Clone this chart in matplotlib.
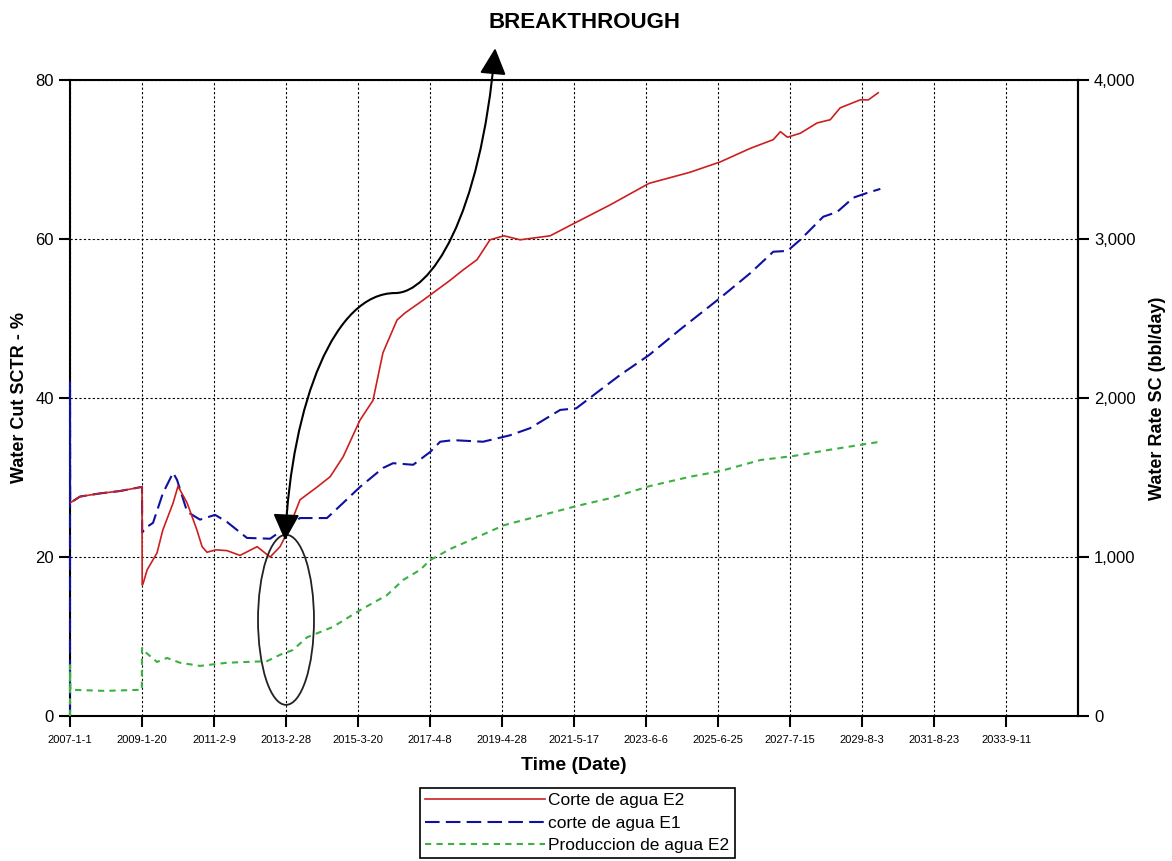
import numpy as np
import matplotlib
matplotlib.use("Agg")
import matplotlib.pyplot as plt
import matplotlib.dates as mdates
from matplotlib.patches import Ellipse, FancyArrowPatch
from matplotlib.path import Path
from matplotlib.ticker import FuncFormatter

plt.rcParams['font.family'] = ['Liberation Sans', 'DejaVu Sans']

# Corte de agua E2 (Water Cut %, left axis)
e2_dates = ["2007-01-01", "2007-04-15", "2007-11-10", "2008-06-05", "2009-01-12", "2009-01-20",
            "2009-01-22", "2009-01-30", "2009-03-15", "2009-06-25", "2009-08-25", "2009-12-10",
            "2010-01-30", "2010-05-05", "2010-08-15", "2010-10-08", "2010-11-28", "2011-03-01",
            "2011-06-25", "2011-11-07", "2012-05-03", "2012-09-16", "2012-12-28", "2013-03-10",
            "2013-07-24", "2014-01-18", "2014-06-03", "2014-10-16", "2015-04-09", "2015-08-23",
            "2015-12-05", "2016-04-29", "2016-07-22", "2017-01-26", "2017-11-03", "2018-03-18",
            "2018-08-11", "2018-12-24", "2019-05-19", "2019-11-03", "2020-09-10", "2021-06-09",
            "2022-05-30", "2023-07-08", "2024-09-08", "2025-07-19", "2026-05-27", "2027-01-22",
            "2027-04-06", "2027-06-18", "2027-10-30", "2028-04-23", "2028-09-06", "2028-12-19",
            "2029-07-15", "2029-10-08", "2030-01-19"]
e2_cut = [26.8, 27.6, 28.0, 28.3, 28.8, 28.8,
          16.5, 16.6, 18.4, 20.5, 23.4, 26.8,
          28.9, 26.8, 23.4, 21.3, 20.6, 20.9,
          20.8, 20.2, 21.3, 20.0, 21.3, 23.0,
          27.2, 28.8, 30.1, 32.6, 37.2, 39.7,
          45.7, 49.8, 50.7, 52.3, 54.8, 56.1,
          57.4, 59.9, 60.4, 59.9, 60.4, 62.1,
          64.3, 67.0, 68.4, 69.7, 71.4, 72.5,
          73.5, 72.8, 73.3, 74.6, 75.0, 76.5,
          77.5, 77.5, 78.4]

# corte de agua E1 (Water Cut %, left axis)
e1_dates = ["2007-01-01", "2007-01-01", "2007-01-03", "2007-04-15", "2007-11-10", "2008-06-05",
            "2009-01-12", "2009-01-20", "2009-01-22", "2009-03-15", "2009-05-15", "2009-08-25",
            "2009-12-10", "2010-01-20", "2010-05-05", "2010-09-16", "2011-02-20", "2011-06-25",
            "2012-01-18", "2012-09-16", "2013-03-10", "2013-07-24", "2014-05-01", "2014-10-16",
            "2015-04-09", "2015-12-05", "2016-03-20", "2016-10-15", "2017-04-08", "2017-07-23",
            "2017-12-05", "2018-10-12", "2019-07-18", "2020-02-14", "2020-12-24", "2021-06-09",
            "2022-02-14", "2022-09-10", "2023-07-08", "2024-05-25", "2025-07-19", "2026-05-27",
            "2027-01-22", "2027-06-18", "2027-10-30", "2028-06-25", "2028-11-17", "2029-05-05",
            "2029-09-27", "2030-02-10"]
e1_cut = [0.0, 42.0, 26.8, 27.6, 28.0, 28.3,
          28.8, 28.8, 23.1, 23.8, 24.3, 28.0,
          30.6, 29.7, 25.7, 24.7, 25.3, 24.4,
          22.4, 22.3, 23.8, 24.9, 24.9, 26.8,
          28.8, 31.2, 31.8, 31.6, 33.2, 34.5,
          34.7, 34.5, 35.3, 36.2, 38.5, 38.7,
          41.0, 42.9, 45.4, 48.6, 52.6, 55.7,
          58.4, 58.5, 59.9, 62.8, 63.4, 65.2,
          65.8, 66.3]

# Produccion de agua E2 (Water Rate bbl/day, right axis)
prod_dates = ["2007-01-01", "2007-01-01", "2007-01-05", "2008-01-01", "2009-01-18", "2009-01-20",
              "2009-01-30", "2009-06-25", "2009-10-08", "2010-02-20", "2010-09-16", "2011-06-25",
              "2012-08-15", "2012-12-28", "2013-05-10", "2013-10-05", "2014-07-01", "2015-04-09",
              "2016-01-15", "2016-07-01", "2016-12-28", "2017-04-08", "2017-11-03", "2018-05-30",
              "2019-05-19", "2020-05-30", "2021-06-09", "2022-05-30", "2023-07-08", "2024-09-08",
              "2025-07-19", "2026-09-10", "2027-08-18", "2028-09-06", "2029-09-05", "2030-02-10"]
prod_rate = [0, 320, 165, 158, 165, 428,
             415, 340, 365, 335, 315, 335,
             345, 385, 415, 495, 560, 665,
             760, 855, 920, 980, 1050, 1105,
             1200, 1260, 1320, 1370, 1445, 1505,
             1540, 1610, 1635, 1675, 1710, 1725]

tick_labels = ["2007-1-1", "2009-1-20", "2011-2-9", "2013-2-28", "2015-3-20", "2017-4-8",
               "2019-4-28", "2021-5-17", "2023-6-6", "2025-6-25", "2027-7-15", "2029-8-3",
               "2031-8-23", "2033-9-11"]

t0 = mdates.datestr2num("2007-01-01")
xticks = [mdates.datestr2num(s.replace("-", "/")) for s in tick_labels]

fig = plt.figure(figsize=(11.72, 8.61), dpi=100)
ax = fig.add_axes([70 / 1172, 145 / 861, 1008 / 1172, 636 / 861])
ax2 = ax.twinx()
for side in ('left', 'top', 'bottom'):
    ax2.spines[side].set_visible(False)

red = "#cc1f1f"
blue = "#1010a0"
green = "#3cb043"

ax.plot(mdates.datestr2num(e1_dates), e1_cut, color=blue, lw=1.5, dashes=(7, 3), zorder=3,
        clip_on=False)
ax.plot(mdates.datestr2num(e2_dates), e2_cut, color=red, lw=1.2, zorder=4)
ax2.plot(mdates.datestr2num(prod_dates), prod_rate, color=green, lw=1.5, dashes=(3, 2.5),
         zorder=3, clip_on=False)

xmax = t0 + 14 * 750
ax.set_xlim(t0, xmax)
ax.set_ylim(0, 80)
ax2.set_ylim(0, 4000)
ax.set_xticks(xticks)
ax.set_xticklabels(tick_labels, fontsize=8)
ax.set_yticks([0, 20, 40, 60, 80])
ax2.set_yticks([0, 1000, 2000, 3000, 4000])
ax2.yaxis.set_major_formatter(FuncFormatter(lambda v, p: f"{int(v):,}"))

ax.tick_params(axis='y', labelsize=12, length=8, width=1.5, direction='out')
ax.tick_params(axis='x', length=8, width=1.5, direction='out', pad=6)
ax2.tick_params(axis='y', labelsize=12, length=8, width=1.5, direction='out')

for a in (ax, ax2):
    for s in a.spines.values():
        s.set_linewidth(1.5)
        s.set_zorder(2)

ax.grid(True, color='black', lw=0.8, dashes=(2, 2))

ax.set_xlabel("Time (Date)", fontsize=14, fontweight='bold', labelpad=8)
ax.set_ylabel("Water Cut SCTR - %", fontsize=13, fontweight='bold', labelpad=5)
ax2.set_ylabel("Water Rate SC (bbl/day)", fontsize=13, fontweight='bold', labelpad=10)

# breakthrough annotation
ell = Ellipse((t0 + 2250, 12.1), 583, 21.4, fill=False, edgecolor='#222222', lw=1.3, zorder=6)
ax.add_patch(ell)

verts = [(t0 + 2240, 22.1), (t0 + 2313, 39.7), (t0 + 2761, 53.2), (t0 + 3387, 53.2),
         (t0 + 3751, 53.2), (t0 + 4272, 62.4), (t0 + 4429, 84.0)]
codes = [Path.MOVETO, Path.CURVE4, Path.CURVE4, Path.CURVE4, Path.CURVE4, Path.CURVE4, Path.CURVE4]
arrow = FancyArrowPatch(path=Path(verts, codes), arrowstyle='<|-|>,head_length=0.9,head_width=0.45',
                        mutation_scale=18, color='black', lw=1.5, zorder=7, clip_on=False)
ax.add_patch(arrow)

fig.text(585 / 1172, 1 - 22 / 861, "BREAKTHROUGH", fontsize=16, fontweight='bold',
         ha='center', va='center')

handles = [plt.Line2D([], [], color=red, lw=1.2),
           plt.Line2D([], [], color=blue, lw=1.5, dashes=(7, 3)),
           plt.Line2D([], [], color=green, lw=1.5, dashes=(3, 2.5))]
leg = fig.legend(handles, ["Corte de agua E2", "corte de agua E1", "Produccion de agua E2"],
                 loc='upper left', bbox_to_anchor=(420 / 1172, 1 - 788 / 861),
                 fontsize=12.5, handlelength=6.9, handletextpad=0.2, borderaxespad=0,
                 fancybox=False, framealpha=1, edgecolor='black', labelspacing=0.42,
                 borderpad=0.3)
leg.get_frame().set_linewidth(1.2)

fig.savefig("out.png", dpi=100)
